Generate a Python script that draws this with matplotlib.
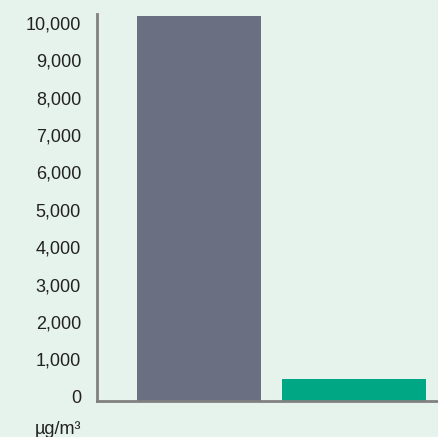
import matplotlib.pyplot as plt
from matplotlib.ticker import FuncFormatter
from matplotlib.transforms import ScaledTranslation

plt.rcParams['font.family'] = ['Liberation Sans', 'DejaVu Sans']

categories = ['A', 'B']
values = [10300, 580]
colors = ['#6a6f82', '#00a784']
yticks = [0, 1000, 2000, 3000, 4000, 5000, 6000, 7000, 8000, 9000, 10000]
unit = 'µg/m³'

bg = '#e6f2ec'
fig = plt.figure(figsize=(4.39, 4.37), dpi=100, facecolor=bg)
ax = fig.add_axes([97 / 439, 36 / 437, 342 / 439, 387 / 437])
ax.set_facecolor(bg)

ax.bar(range(len(categories)), values, width=[0.8, 0.93], color=colors)
ax.set_xlim(-0.658, 1.548)
ax.set_ylim(0, 10350)

ax.set_xticks([])
ax.set_yticks(yticks)
ax.yaxis.set_major_formatter(FuncFormatter(lambda v, p: f'{int(v):,}'))
ax.tick_params(axis='y', length=0, pad=11.5, labelsize=13, labelcolor='#222222')
shift = ScaledTranslation(0, 3 / 72, fig.dpi_scale_trans)
for lab in ax.get_yticklabels():
    lab.set_transform(lab.get_transform() + shift)

for s in ['top', 'right']:
    ax.spines[s].set_visible(False)
for s in ['left', 'bottom']:
    ax.spines[s].set_color('#808080')
    ax.spines[s].set_linewidth(2)

fig.text(81 / 439, 1 - 429 / 437, unit, ha='right', va='center', fontsize=13, color='#222222')

fig.savefig('out.png', dpi=100, facecolor=bg)
